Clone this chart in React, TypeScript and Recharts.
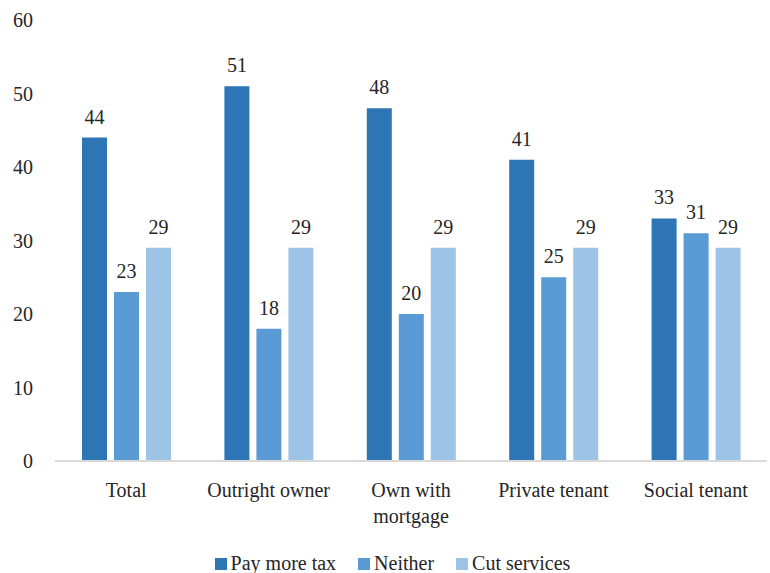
import React from "react";
import { BarChart, Bar, XAxis, YAxis, LabelList, Legend } from "recharts";

const categories = ["Total", "Outright owner", "Own with\nmortgage", "Private tenant", "Social tenant"];
const payMoreTax = [44, 51, 48, 41, 33];
const neither = [23, 18, 20, 25, 31];
const cutServices = [29, 29, 29, 29, 29];
const yTicks = [0, 10, 20, 30, 40, 50, 60];

const seriesList = [
  { key: "pay", name: "Pay more tax", color: "#2E75B6" },
  { key: "neither", name: "Neither", color: "#5B9BD5" },
  { key: "cut", name: "Cut services", color: "#9DC3E6" },
];

const data = categories.map((name, i) => ({
  name,
  pay: payMoreTax[i],
  neither: neither[i],
  cut: cutServices[i],
}));

const FONT = "Liberation Serif, Times New Roman, Times, DejaVu Serif, serif";
const TEXT = "#262626";

const CategoryTick = (props: any) => {
  const { x, y, payload } = props;
  const lines = String(payload.value).split("\n");
  return (
    <text x={x} y={y} textAnchor="middle" style={{ fontFamily: FONT }} fontSize={20} fill={TEXT}>
      {lines.map((line, i) => (
        <tspan key={i} x={x} dy={i === 0 ? 28 : 26}>
          {line}
        </tspan>
      ))}
    </text>
  );
};

const LegendContent = () => (
  <div
    style={{
      display: "flex",
      justifyContent: "center",
      gap: 22,
      fontFamily: FONT,
      fontSize: 20,
      color: TEXT,
      paddingLeft: 18,
      paddingTop: 9,
    }}
  >
    {seriesList.map((s) => (
      <div key={s.key} style={{ display: "flex", alignItems: "center" }}>
        <span style={{ width: 12, height: 12, background: s.color, marginRight: 4, display: "inline-block" }} />
        <span>{s.name}</span>
      </div>
    ))}
  </div>
);

export default function App() {
  return (
    <div style={{ position: "absolute", left: 0, top: 0, background: "#fff", fontFamily: FONT }}>
      <BarChart
        width={770}
        height={573}
        data={data}
        margin={{ top: 20, right: 3, bottom: 0, left: 0 }}
        barSize={25}
        barGap={7}
      >
        <XAxis
          dataKey="name"
          height={82}
          tickLine={false}
          axisLine={{ stroke: "#D9D9D9", strokeWidth: 2 }}
          tick={<CategoryTick />}
          interval={0}
        />
        <YAxis
          width={55}
          domain={[0, 60]}
          ticks={yTicks}
          axisLine={false}
          tickLine={false}
          tickSize={0}
          tickMargin={22}
          tick={{ fontFamily: FONT, fontSize: 20, fill: TEXT, style: { fontFamily: FONT } }}
        />
        <Legend verticalAlign="bottom" height={30} content={<LegendContent />} />
        {seriesList.map((s) => (
          <Bar key={s.key} dataKey={s.key} name={s.name} fill={s.color} isAnimationActive={false}>
            <LabelList
              dataKey={s.key}
              position="top"
              offset={14}
              style={{ fontFamily: FONT, fontSize: 20, fill: TEXT }}
            />
          </Bar>
        ))}
      </BarChart>
    </div>
  );
}
